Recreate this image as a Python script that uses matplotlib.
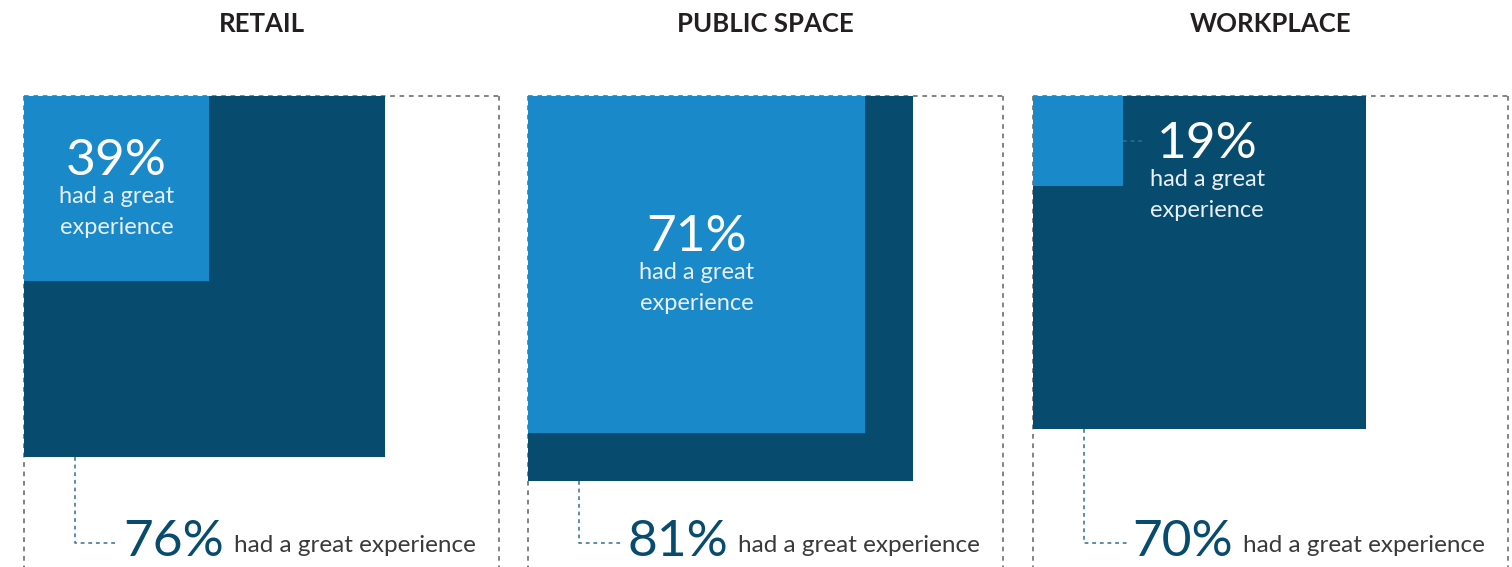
import matplotlib
matplotlib.use("Agg")
import matplotlib.pyplot as plt
from matplotlib.patches import Rectangle
from matplotlib import font_manager as fm

# Survey results: share of visitors who had a great experience
categories = ["RETAIL", "PUBLIC SPACE", "WORKPLACE"]
overall_pct = [76, 81, 70]      # dark squares
subgroup_pct = [39, 71, 19]     # light squares
caption = "had a great experience"

DARK = "#074b6e"
LIGHT = "#1a89ca"
GRID = "#7a7a7a"
LEADER = "#2f6f96"
TEXT = "#3a3a3a"
TITLE = "#231f20"

W, H, DPI = 1512, 567, 100
fam = "Lato"
avail = {f.name for f in fm.fontManager.ttflist}
if fam not in avail:
    fam = "DejaVu Sans"
plt.rcParams["font.family"] = [fam, "DejaVu Sans"]

fig = plt.figure(figsize=(W / DPI, H / DPI), dpi=DPI)
fig.patch.set_facecolor("white")

panel_left = [24, 528, 1033]   # px
panel_top = 96                 # px
side = 475                     # px, the 100% square
u = 100.0 / side               # data units per pixel

axes = []
for i, name in enumerate(categories):
    left = panel_left[i]
    ax = fig.add_axes([left / W, (H - panel_top - side) / H, side / W, side / H])
    ax.set_xlim(0, 100)
    ax.set_ylim(100, 0)
    ax.axis("off")
    axes.append(ax)

    big = overall_pct[i]
    small = subgroup_pct[i]

    # 100% outline
    ol = dict(color=GRID, lw=1.3, ls=(0, (2.6, 2.6)), clip_on=False, zorder=1)
    ax.plot([0, 100], [0, 0], **ol)
    ax.plot([100, 100], [0, 100], **ol)
    ax.plot([0, 0], [0, 100], **ol)

    ax.add_patch(Rectangle((0, 0), big, big, facecolor=DARK, edgecolor="none", zorder=2))
    ax.add_patch(Rectangle((0, 0), small, small, facecolor=LIGHT, edgecolor="none", zorder=3))

    # panel title
    ax.text(50, -72 * u, name, ha="center", va="center", fontsize=18.5,
            fontweight="bold", color=TITLE, clip_on=False)

    # subgroup label
    if small >= 30:
        cx, cy = small / 2, small / 2
        dy = [-28, 8, 39]
    else:
        cy = small / 2
        ax.plot([small, small + 20 * u], [cy, cy], color=LEADER, lw=1.1,
                ls=(0, (2.5, 2.5)), zorder=4)
        cx = small + 84 * u
        dy = [3, 38, 69]
    ax.text(cx, cy + dy[0] * u, f"{small}%", ha="center", va="center",
            fontsize=37, fontweight="normal", color="white", zorder=5)
    ax.text(cx, cy + dy[1] * u, "had a great", ha="center", va="center",
            fontsize=17, fontweight="normal", color="#e8eff5", zorder=5)
    ax.text(cx, cy + dy[2] * u, "experience", ha="center", va="center",
            fontsize=17, fontweight="normal", color="#e8eff5", zorder=5)

    # overall callout
    lx = 51 * u
    ly = 447 * u
    ax.plot([lx, lx, lx + 43 * u], [big, ly, ly], color=LEADER, lw=1.1,
            ls=(0, (2.5, 2.5)), clip_on=False, zorder=4)
    base = 460 * u
    num = ax.text(lx + 48 * u, base, f"{big}%", ha="left", va="baseline",
                  fontsize=37, fontweight="normal", color=DARK, clip_on=False)
    fig.canvas.draw()
    bb = num.get_window_extent(fig.canvas.get_renderer())
    x_end = ax.transData.inverted().transform((bb.x1, bb.y0))[0]
    ax.text(x_end + 10 * u, base - 4 * u, caption, ha="left", va="baseline",
            fontsize=17.5, fontweight="normal", color=TEXT, clip_on=False)

fig.savefig("out.png", dpi=DPI, facecolor="white")
